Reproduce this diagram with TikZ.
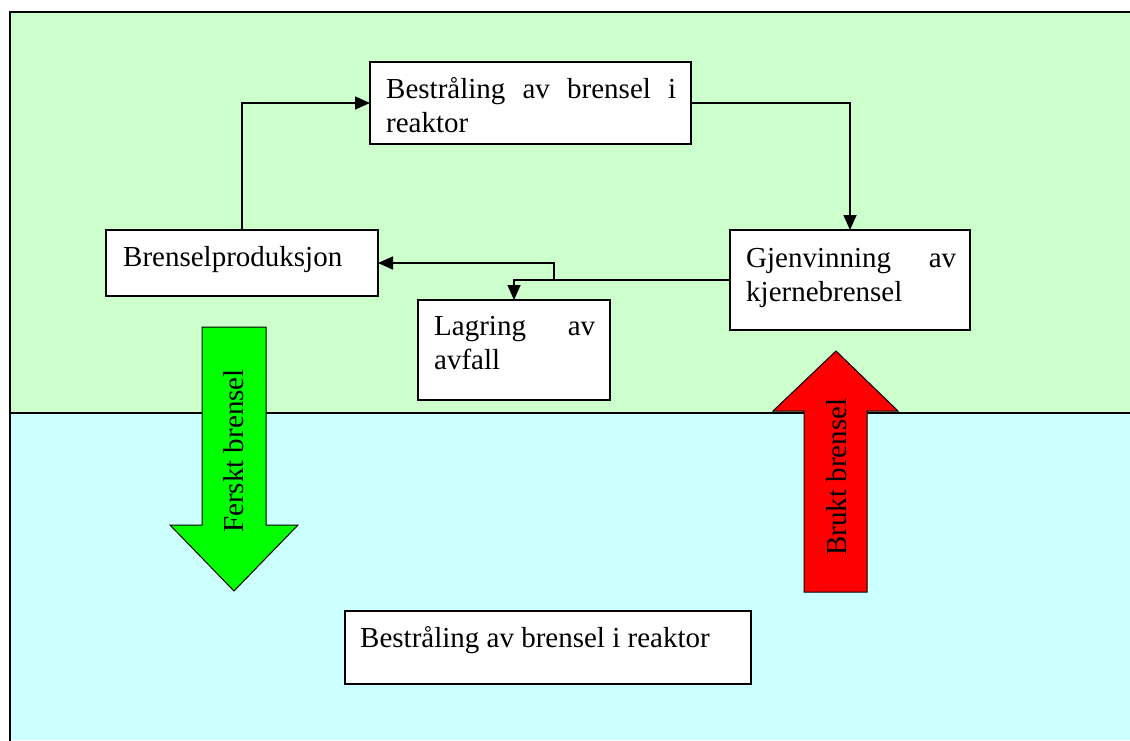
\documentclass[tikz,border=0pt]{standalone}
\usepackage{fontspec}
\setmainfont{Liberation Serif}
\usetikzlibrary{arrows.meta}
\definecolor{upperzone}{HTML}{CCFFCC}
\definecolor{lowerzone}{HTML}{CCFFFF}
\definecolor{freshfuel}{HTML}{00FF00}
\definecolor{spentfuel}{HTML}{FF0000}
% invisible strut: fixes the first baseline 24pt below the top of a label
\newcommand\lnstrut{\rule{0pt}{24pt}}
\begin{document}
\begin{tikzpicture}[x=1pt,y=-1pt,
  box/.style={draw, line width=1.8pt, fill=white, rectangle, inner sep=0pt, outer sep=0pt, anchor=north west},
  lbl/.style={inner sep=0pt, anchor=north west, align=left, font=\fontsize{29}{34}\selectfont},
  flow/.style={line width=1.6pt, -{Triangle[length=15pt,width=13pt]}},
  blockarrow/.style={draw, line width=1pt, line join=miter},
  vtext/.style={inner sep=0pt, rotate=90, font=\fontsize{29}{34}\selectfont}]
\useasboundingbox (0,0) rectangle (1130,740);

% two zones
\fill[upperzone] (10,12) rectangle (1130,413);
\fill[lowerzone] (10,413) rectangle (1130,740);
\draw[line width=2pt] (1131,12) -- (10,12) -- (10,741);
\draw[line width=2pt] (10,413) -- (1131,413);

% block arrows between the zones
\draw[blockarrow, fill=freshfuel] (202,327) -- (266,327) -- (266,525) -- (298,525)
  -- (234,591) -- (170,525) -- (202,525) -- cycle;
\node[vtext] (fresh) at (234,451) {Ferskt brensel};
\draw[blockarrow, fill=spentfuel] (804,592) -- (867,592) -- (867,411) -- (898,411)
  -- (836,351) -- (773,411) -- (804,411) -- cycle;
\node[vtext] (spent) at (837,477) {Brukt brensel};

% process boxes
\node[box, minimum width=321pt, minimum height=82pt] (irr) at (370,62) {};
\node[lbl, text width=290pt] (irrT) at ([shift={(16,12)}]irr.north west)
  {\lnstrut Bestråling\hfill av\hfill brensel\hfill i\\reaktor};

\node[box, minimum width=272pt, minimum height=66pt] (prod) at (106,230) {};
\node[lbl] (prodT) at ([shift={(17,12)}]prod.north west) {\lnstrut Brenselproduksjon};

\node[box, minimum width=240pt, minimum height=100pt] (rec) at (730,230) {};
\node[lbl, text width=210pt] (recT) at ([shift={(16,13)}]rec.north west)
  {\lnstrut Gjenvinning\hfill av\\kjernebrensel};

\node[box, minimum width=192pt, minimum height=100pt] (store) at (418,300) {};
\node[lbl, text width=161pt] (storeT) at ([shift={(16,11)}]store.north west)
  {\lnstrut Lagring\hfill av\\avfall};

\node[box, minimum width=406pt, minimum height=73pt] (core) at (345,611) {};
\node[lbl] (coreT) at ([shift={(15,12)}]core.north west)
  {\lnstrut Bestråling av brensel i reaktor};

% fuel cycle connectors
\path (rec.west) -- ++(-176,0) coordinate (split);
\draw[flow] (prod.north) |- (irr.west);
\draw[flow] (irr.east) -| (rec.north);
\draw[flow] (rec.west) -- (split) |- (prod.east);
\draw[flow] (split) -| (store.north);
\end{tikzpicture}
\end{document}
